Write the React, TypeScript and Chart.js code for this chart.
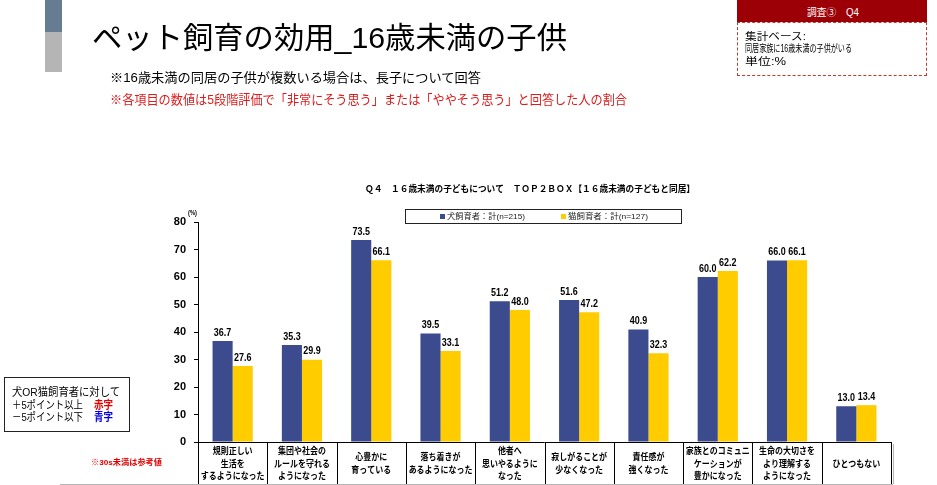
import React, { useEffect, useLayoutEffect, useRef } from "react";
import { Chart, registerables } from "chart.js";

Chart.register(...registerables);

// ---------- data ----------
const categories: string[][] = [
  ["規則正しい", "生活を", "するようになった"],
  ["集団や社会の", "ルールを守れる", "ようになった"],
  ["心豊かに", "育っている"],
  ["落ち着きが", "あるようになった"],
  ["他者へ", "思いやるように", "なった"],
  ["寂しがることが", "少なくなった"],
  ["責任感が", "強くなった"],
  ["家族とのコミュニ", "ケーションが", "豊かになった"],
  ["生命の大切さを", "より理解する", "ようになった"],
  ["ひとつもない"],
];
const dogValues = [36.7, 35.3, 73.5, 39.5, 51.2, 51.6, 40.9, 60.0, 66.0, 13.0];
const catValues = [27.6, 29.9, 66.1, 33.1, 48.0, 47.2, 32.3, 62.2, 66.1, 13.4];
const seriesNames = ["犬飼育者：計(n=215)", "猫飼育者：計(n=127)"];
const yMin = 0;
const yMax = 80;
const yStep = 10;
const chartTitle =
  "Ｑ４　１６歳未満の子どもについて　ＴＯＰ２ＢＯＸ【１６歳未満の子どもと同居】";

// ---------- styles ----------
const BLUE = "#3b4b8d";
const YELLOW = "#ffcc00";
const LATIN = '"Liberation Sans", Arial, sans-serif';
const JP = '"Liberation Sans", "Noto Sans CJK JP", sans-serif';

function fillFit(
  ctx: CanvasRenderingContext2D,
  text: string,
  x: number,
  y: number,
  width: number,
  align: "left" | "center" | "right" = "left"
) {
  const w = ctx.measureText(text).width || 1;
  const s = width / w;
  ctx.save();
  ctx.translate(x, y);
  ctx.scale(s, 1);
  ctx.textAlign = align;
  ctx.textBaseline = "middle";
  ctx.fillText(text, 0, 0);
  ctx.restore();
}

function fillScaled(
  ctx: CanvasRenderingContext2D,
  text: string,
  x: number,
  y: number,
  sx: number,
  align: "left" | "center" | "right" = "center"
) {
  ctx.save();
  ctx.translate(x, y);
  ctx.scale(sx, 1);
  ctx.textAlign = align;
  ctx.textBaseline = "middle";
  ctx.fillText(text, 0, 0);
  ctx.restore();
}

const decorPlugin = {
  id: "decor",
  afterDatasetsDraw(chart: any) {
    const ctx: CanvasRenderingContext2D = chart.ctx;
    ctx.save();
    ctx.fillStyle = "#000";
    ctx.font = `bold 11.5px ${LATIN}`;
    chart.data.datasets.forEach((ds: any, di: number) => {
      const meta = chart.getDatasetMeta(di);
      meta.data.forEach((el: any, i: number) => {
        const v = ds.data[i] as number;
        fillScaled(ctx, v.toFixed(1), el.x, el.y - 8.5, 0.78, "center");
      });
    });
    ctx.restore();
  },
  afterDraw(chart: any) {
    const ctx: CanvasRenderingContext2D = chart.ctx;
    const ca = chart.chartArea;
    const xs = chart.scales.x;
    const n = categories.length;
    const cw = (ca.right - ca.left) / n;
    const tableBottom = 484;
    ctx.save();

    // table lines
    ctx.strokeStyle = "#000";
    ctx.lineWidth = 1;
    ctx.beginPath();
    ctx.moveTo(ca.left, Math.round(ca.bottom) + 0.5);
    ctx.lineTo(ca.right, Math.round(ca.bottom) + 0.5);
    for (let i = 0; i <= n; i++) {
      const x = Math.round(ca.left + i * cw) + 0.5;
      ctx.moveTo(x, ca.bottom);
      ctx.lineTo(x, tableBottom);
    }
    ctx.stroke();
    ctx.strokeStyle = "#b5b5b5";
    ctx.beginPath();
    ctx.moveTo(60, tableBottom + 0.5);
    ctx.lineTo(ca.right + 2, tableBottom + 0.5);
    ctx.moveTo(Math.round(ca.right) + 2.5, ca.bottom + 2);
    ctx.lineTo(Math.round(ca.right) + 2.5, tableBottom);
    ctx.stroke();

    // category labels
    ctx.fillStyle = "#000";
    ctx.font = `bold 9.5px ${JP}`;
    categories.forEach((lines, i) => {
      const cx = xs.getPixelForValue(i);
      const lh = 12.5;
      const y0 = 464 - ((lines.length - 1) * lh) / 2;
      lines.forEach((t, li) => fillScaled(ctx, t, cx, y0 + li * lh, 0.84, "center"));
    });

    // chart title
    ctx.font = `bold 9px ${JP}`;
    ctx.fillStyle = "#000";
    fillFit(ctx, chartTitle, 365, 190, 330, "left");

    // (%)
    ctx.font = `bold 6.5px ${LATIN}`;
    fillFit(ctx, "(%)", 188, 213, 9, "left");

    // legend box
    ctx.strokeStyle = "#222";
    ctx.lineWidth = 1;
    ctx.strokeRect(405.5, 209.5, 276, 14);
    ctx.fillStyle = BLUE;
    ctx.fillRect(440, 214, 5, 5);
    ctx.fillStyle = YELLOW;
    ctx.fillRect(561, 214, 5, 5);
    ctx.fillStyle = "#222";
    ctx.font = `8px ${JP}`;
    fillFit(ctx, seriesNames[0], 447, 216.5, 78, "left");
    fillFit(ctx, seriesNames[1], 568, 216.5, 80, "left");

    ctx.restore();
  },
};

function FitText(props: {
  text: string;
  x: number;
  y: number;
  w: number;
  size: number;
  color?: string;
  weight?: number | string;
  family?: string;
}) {
  const { text, x, y, w, size, color = "#000", weight = 400, family = JP } = props;
  const ref = useRef<HTMLSpanElement>(null);
  useLayoutEffect(() => {
    const el = ref.current;
    if (!el) return;
    const fit = () => {
      el.style.transform = "none";
      const actual = el.getBoundingClientRect().width;
      if (actual > 0) el.style.transform = `scaleX(${w / actual})`;
    };
    fit();
    if ((document as any).fonts?.ready) (document as any).fonts.ready.then(fit);
  }, [text, w]);
  return (
    <span
      ref={ref}
      style={{
        position: "absolute",
        left: x,
        top: y - size * 0.6,
        fontSize: size,
        lineHeight: `${size * 1.2}px`,
        whiteSpace: "nowrap",
        color,
        fontWeight: weight as any,
        fontFamily: family,
        transformOrigin: "left center",
      }}
    >
      {text}
    </span>
  );
}

export default function App() {
  const canvasRef = useRef<HTMLCanvasElement>(null);

  useEffect(() => {
    const canvas = canvasRef.current;
    if (!canvas) return;
    const chart = new Chart(canvas, {
      type: "bar",
      data: {
        labels: categories.map((c) => c.join("")),
        datasets: [
          {
            label: seriesNames[0],
            data: dogValues,
            backgroundColor: BLUE,
            borderWidth: 0,
          },
          {
            label: seriesNames[1],
            data: catValues,
            backgroundColor: YELLOW,
            borderWidth: 0,
          },
        ],
      },
      options: {
        responsive: false,
        animation: false,
        devicePixelRatio: 1,
        layout: { padding: { left: 160, right: 46, top: 222, bottom: 43 } },
        datasets: {
          bar: { categoryPercentage: 0.58, barPercentage: 1.0 },
        },
        plugins: {
          legend: { display: false },
          title: { display: false },
          tooltip: { enabled: false },
        },
        scales: {
          x: {
            display: false,
            grid: { display: false },
          },
          y: {
            min: yMin,
            max: yMax,
            ticks: {
              stepSize: yStep,
              color: "#000",
              padding: 8,
              font: { family: LATIN, size: 11, weight: "bold" },
            },
            grid: {
              drawOnChartArea: false,
              drawTicks: true,
              tickLength: 4,
              color: "#000",
            },
            border: { display: true, color: "#000", width: 1 },
            afterFit: (s: any) => {
              s.width = 38;
            },
          },
        },
      },
      plugins: [decorPlugin],
    } as any);
    return () => chart.destroy();
  }, []);

  return (
    <div
      style={{
        position: "absolute",
        left: 0,
        top: 0,
        width: 937,
        height: 485,
        background: "#fff",
        overflow: "hidden",
      }}
    >
      <canvas
        ref={canvasRef}
        width={937}
        height={485}
        style={{ position: "absolute", left: 0, top: 0 }}
      />

      {/* left decorative bar */}
      <div style={{ position: "absolute", left: 45, top: 0, width: 17, height: 32, background: "#667d91" }} />
      <div style={{ position: "absolute", left: 45, top: 32, width: 17, height: 40, background: "#b5b5b5" }} />

      {/* page title & notes */}
      <FitText text="ペット飼育の効用_16歳未満の子供" x={92} y={38} w={475} size={30} />
      <FitText text="※16歳未満の同居の子供が複数いる場合は、長子について回答" x={110} y={78} w={371} size={13} />
      <FitText
        text="※各項目の数値は5段階評価で「非常にそう思う」または「ややそう思う」と回答した人の割合"
        x={110}
        y={100}
        w={517}
        size={13}
        color="#e01b1b"
      />

      {/* top-right info box */}
      <div style={{ position: "absolute", left: 737, top: 0, width: 190, height: 22, background: "#9c0006" }} />
      <FitText text="調査③　Q4" x={807} y={13} w={52} size={10} color="#fff" />
      <div
        style={{
          position: "absolute",
          left: 737,
          top: 22,
          width: 188,
          height: 52,
          border: "1px dashed #c0392b",
        }}
      />
      <FitText text="集計ベース:" x={745} y={37} w={61} size={10} />
      <FitText text="同居家族に16歳未満の子供がいる" x={745} y={49} w={107} size={10} />
      <FitText text="単位:%" x={745} y={62} w={41} size={10} />

      {/* left colour-rule box */}
      <div
        style={{
          position: "absolute",
          left: 4,
          top: 377,
          width: 124,
          height: 53,
          border: "1px solid #222",
        }}
      />
      <FitText text="犬OR猫飼育者に対して" x={12} y={393} w={108} size={11} />
      <FitText text="＋5ポイント以上" x={12} y={406} w={71} size={11} />
      <FitText text="赤字" x={94} y={406} w={19} size={11} weight={700} color="#e00000" />
      <FitText text="－5ポイント以下" x={12} y={418} w={71} size={11} />
      <FitText text="青字" x={94} y={418} w={19} size={11} weight={700} color="#0000e0" />

      <FitText text="※30s未満は参考値" x={91} y={463} w={71} size={8} weight={700} color="#e00000" />
    </div>
  );
}
